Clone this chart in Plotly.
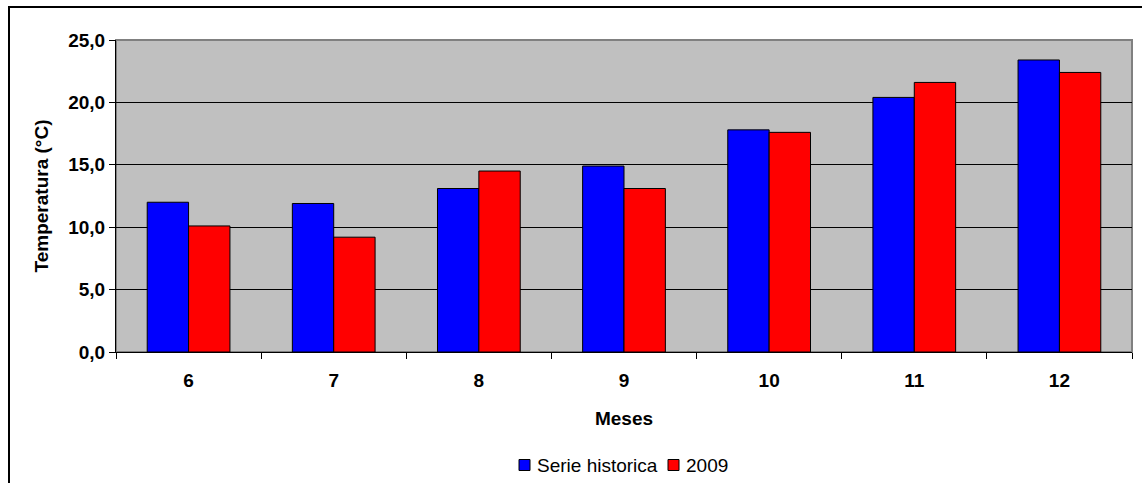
import plotly.graph_objects as go

# Monthly mean temperature: long-term series vs. 2009
meses = ["6", "7", "8", "9", "10", "11", "12"]
serie_historica = [12.0, 11.9, 13.1, 14.9, 17.8, 20.4, 23.4]
anio_2009 = [10.1, 9.2, 14.5, 13.1, 17.6, 21.6, 22.4]
y_ticks = [0, 5, 10, 15, 20, 25]

series_names = ["Serie historica", "2009"]
series_colors = ["#0000FF", "#FF0000"]

W, H = 1142, 483
L, R, T, B = 116, 10, 40, 131
plot_w = W - L - R
plot_h = H - T - B

FONT = "Liberation Sans, Arial, sans-serif"

fig = go.Figure()
for name, vals, col in zip(series_names, [serie_historica, anio_2009], series_colors):
    fig.add_trace(go.Bar(
        x=meses, y=vals, name=name,
        marker=dict(color=col, line=dict(color="#000000", width=1)),
    ))


def px_x(p):
    return (p - L) / plot_w


def px_y(p):
    return (H - B - p) / plot_h


# compact legend below the axis title: small swatch + label for each series
legend_x = [519, 668]
legend_y = 465
sw = 11
shapes = [
    # gray frame of the plotting area (top / right edges)
    dict(type="rect", xref="paper", yref="paper", x0=0, x1=1, y0=0, y1=1,
         line=dict(color="#808080", width=2), layer="below"),
    # outer chart frame
    dict(type="rect", xref="paper", yref="paper",
         x0=px_x(9), x1=px_x(1160), y0=px_y(500), y1=px_y(7),
         line=dict(color="#000000", width=2), layer="above"),
]
annotations = []
for name, col, lx in zip(series_names, series_colors, legend_x):
    shapes.append(dict(
        type="rect", xref="paper", yref="paper",
        x0=px_x(lx), x1=px_x(lx + sw),
        y0=px_y(legend_y + sw / 2), y1=px_y(legend_y - sw / 2),
        fillcolor=col, line=dict(color="#000000", width=1),
    ))
    annotations.append(dict(
        text=name, xref="paper", yref="paper",
        x=px_x(lx + sw + 5), y=px_y(legend_y),
        xanchor="left", yanchor="middle", showarrow=False,
        font=dict(family=FONT, size=19, color="#000000"),
    ))

fig.update_layout(
    width=W, height=H,
    margin=dict(l=L, r=R, t=T, b=B, pad=0, autoexpand=False),
    paper_bgcolor="#FFFFFF",
    plot_bgcolor="#C0C0C0",
    barmode="group", bargap=0.43, bargroupgap=0,
    separators=",.",
    font=dict(family=FONT, color="#000000", size=18),
    showlegend=False,
    xaxis=dict(
        type="category",
        showline=True, linecolor="#000000", linewidth=1,
        ticks="outside", tickson="boundaries", ticklen=6,
        tickcolor="#000000", tickwidth=1,
        ticklabelstandoff=11,
        showgrid=False,
        tickfont=dict(family=FONT, size=19, color="#000000", weight="bold"),
        title=dict(text="<b>Meses</b>", standoff=21,
                   font=dict(family=FONT, size=19, color="#000000")),
    ),
    yaxis=dict(
        range=[0, 25], tickvals=y_ticks, tickformat=".1f",
        showline=True, linecolor="#000000", linewidth=1,
        ticks="outside", ticklen=6, tickcolor="#000000", tickwidth=1,
        showgrid=True, gridcolor="#000000", gridwidth=1,
        zeroline=False,
        tickfont=dict(family=FONT, size=19, color="#000000", weight="bold"),
        title=dict(text="<b>Temperatura (°C)</b>", standoff=14,
                   font=dict(family=FONT, size=19, color="#000000")),
    ),
    shapes=shapes,
    annotations=annotations,
)

fig.write_html("out.html")
